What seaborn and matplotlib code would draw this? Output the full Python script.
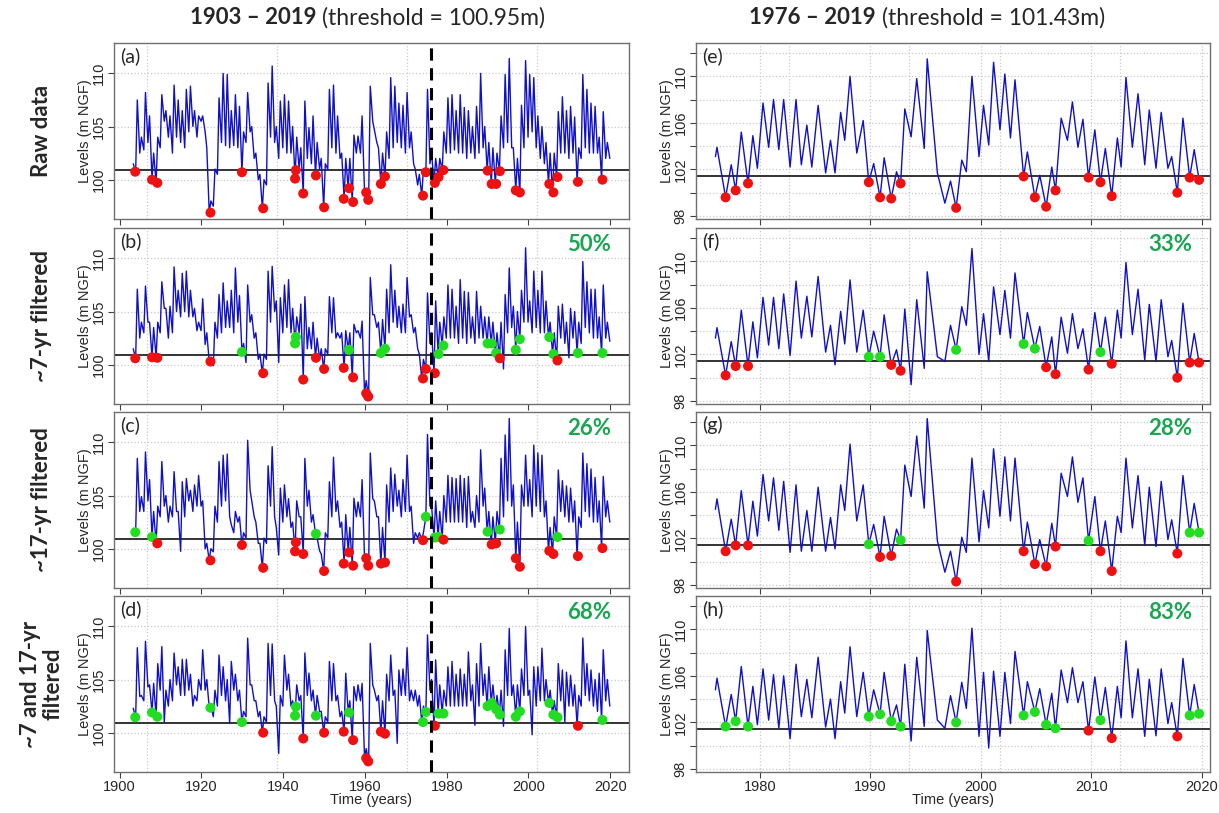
import numpy as np
import pandas as pd
import matplotlib
matplotlib.use("Agg")
import matplotlib.pyplot as plt
import seaborn as sns

# ---------------- data: long record 1903-2019 (annual high / low) ----------------
years_long = np.arange(1903, 2020)

a_high = [101.5, 107.5, 104.0, 108.2, 106.0, 102.5, 104.0, 108.0, 106.5, 106.0,
          108.9, 107.5, 106.5, 108.5, 108.8, 106.5, 106.0, 106.0, 103.0, 98.0,
          101.0, 107.7, 110.0, 109.9, 106.5, 108.0, 106.9, 104.5, 108.2, 105.0,
          102.5, 100.5, 100.0, 109.1, 110.7, 105.0, 107.4, 108.0, 107.4, 105.0,
          104.0, 103.0, 107.4, 104.9, 106.0, 103.5, 102.0, 101.5, 108.5, 108.9,
          106.0, 102.5, 102.0, 102.0, 104.2, 104.1, 106.0, 98.5, 108.8, 104.7,
          103.0, 102.5, 104.5, 109.6, 108.8, 107.2, 107.0, 108.2, 104.5, 101.0,
          100.5, 101.0, 108.5, 102.5, 102.0, 102.0, 104.5, 107.7, 108.0, 106.5,
          108.0, 106.8, 106.5, 105.0, 106.9, 110.0, 105.0, 103.5, 103.0, 102.5,
          106.0, 109.9, 111.4, 103.0, 102.0, 107.0, 111.2, 109.9, 109.6, 106.0,
          105.0, 103.5, 102.5, 102.5, 106.4, 107.8, 106.5, 106.9, 105.9, 103.0,
          109.9, 108.5, 107.2, 106.9, 104.0, 106.4, 103.5]
a_low = [100.75, 102.5, 102.8, 103.5, 100.0, 99.7, 103.0, 105.5, 104.0, 102.5,
         104.0, 103.5, 103.0, 104.5, 105.0, 104.0, 105.5, 104.5, 96.9, 97.5,
         100.5, 103.5, 103.2, 103.0, 103.2, 103.0, 100.7, 103.5, 104.5, 102.0,
         100.0, 97.3, 99.5, 104.0, 103.5, 102.0, 103.0, 102.5, 102.5, 100.1,
         101.0, 98.7, 102.0, 101.5, 100.4, 101.0, 97.4, 101.0, 103.0, 102.5,
         102.0, 98.2, 99.2, 97.9, 102.5, 102.5, 98.8, 98.1, 105.5, 103.5,
         99.6, 100.3, 102.0, 103.0, 103.5, 103.0, 102.5, 103.0, 101.5, 99.5,
         98.5, 100.7, 101.5, 99.7, 100.25, 100.9, 102.5, 102.5, 102.8, 102.5,
         102.5, 102.0, 102.5, 102.0, 102.5, 103.0, 100.85, 99.6, 99.6, 100.8,
         103.0, 103.5, 103.0, 99.0, 98.8, 103.0, 104.0, 104.5, 103.0, 102.0,
         101.5, 99.6, 98.8, 100.25, 102.5, 102.5, 102.0, 102.5, 99.8, 102.0,
         103.0, 102.5, 102.5, 102.5, 100.0, 102.0, 102.0]

b_high = [101.5, 107.1, 104.0, 107.4, 104.0, 103.5, 104.0, 107.8, 105.3, 105.5,
          109.2, 107.0, 108.6, 108.8, 107.0, 105.3, 104.0, 106.2, 103.0, 100.5,
          104.0, 106.6, 107.7, 106.0, 107.0, 109.1, 106.5, 102.0, 107.5, 104.7,
          103.0, 101.0, 101.0, 108.8, 109.25, 106.0, 106.3, 107.5, 108.0, 105.3,
          104.5, 105.7, 106.4, 103.5, 104.0, 102.5, 101.5, 101.5, 106.4, 106.3,
          103.0, 103.0, 103.2, 103.0, 103.8, 103.2, 104.1, 98.5, 108.2, 104.7,
          104.0, 104.25, 107.1, 109.4, 107.0, 105.5, 105.7, 108.2, 104.7, 103.5,
          101.0, 100.5, 106.75, 103.0, 106.0, 104.0, 104.5, 107.5, 107.1, 105.5,
          108.0, 106.9, 106.8, 104.5, 106.9, 105.5, 104.5, 104.5, 104.0, 103.0,
          104.0, 106.6, 109.1, 105.5, 105.0, 107.0, 111.0, 106.0, 108.8, 107.0,
          108.8, 106.0, 104.0, 103.0, 105.5, 105.7, 104.0, 105.3, 105.0, 104.0,
          109.7, 107.8, 107.1, 107.1, 104.5, 107.5, 104.0]
b_low = [100.6, 102.5, 103.0, 104.0, 100.7, 100.65, 103.0, 105.3, 102.5, 103.0,
         105.0, 104.5, 105.0, 104.5, 104.5, 103.2, 103.2, 101.9, 100.3, 99.9,
         102.5, 103.0, 103.5, 103.5, 103.0, 104.0, 101.2, 100.2, 104.0, 102.5,
         100.5, 99.2, 100.5, 104.0, 105.0, 100.2, 103.0, 103.5, 103.0, 102.0,
         103.0, 98.6, 101.5, 101.5, 100.65, 100.5, 99.6, 101.0, 103.0, 102.5,
         102.5, 99.7, 101.4, 98.8, 103.0, 102.5, 97.3, 97.0, 104.7, 103.5,
         101.1, 101.5, 103.0, 104.0, 103.5, 103.0, 103.0, 104.5, 103.0, 101.5,
         98.7, 99.6, 102.0, 99.2, 101.0, 101.8, 102.5, 102.5, 102.5, 102.0,
         102.5, 102.0, 102.5, 102.0, 102.5, 102.5, 102.0, 102.0, 101.1, 100.6,
         99.6, 103.0, 103.5, 101.4, 102.4, 104.0, 104.0, 103.0, 103.5, 103.0,
         103.0, 102.6, 101.0, 100.4, 102.5, 102.0, 100.65, 102.5, 101.1, 102.0,
         103.5, 103.0, 102.5, 102.5, 101.1, 102.5, 102.2]

c_high = [101.6, 108.5, 104.9, 109.1, 106.5, 103.5, 104.0, 108.2, 105.0, 104.0,
          107.25, 103.5, 106.3, 106.6, 105.5, 106.0, 106.9, 104.5, 100.5, 100.0,
          104.0, 108.2, 108.8, 108.9, 102.25, 103.5, 103.0, 101.5, 110.2, 104.5,
          102.5, 100.5, 101.0, 107.8, 109.6, 102.0, 105.7, 106.0, 104.7, 102.5,
          104.5, 103.0, 108.5, 105.5, 103.2, 101.0, 99.5, 101.5, 106.3, 108.6,
          104.5, 102.5, 103.2, 102.0, 104.75, 104.4, 106.5, 99.5, 109.0, 104.5,
          103.0, 102.0, 106.0, 107.6, 107.0, 105.5, 106.5, 108.8, 104.0, 101.5,
          101.5, 101.5, 110.75, 104.0, 104.5, 103.5, 105.0, 106.9, 106.7, 106.6,
          106.9, 106.6, 106.8, 103.5, 105.0, 109.3, 105.7, 103.5, 103.0, 103.5,
          108.5, 110.7, 112.25, 106.0, 102.5, 106.0, 108.8, 106.5, 109.75, 109.0,
          108.8, 104.5, 102.0, 103.0, 107.4, 106.4, 105.9, 105.7, 104.5, 103.0,
          109.0, 108.0, 107.5, 106.7, 104.5, 106.8, 104.5]
c_low = [101.55, 103.5, 103.5, 104.5, 101.1, 100.5, 103.0, 104.0, 102.5, 103.0,
         103.5, 99.75, 103.0, 104.5, 103.5, 104.0, 104.0, 100.0, 98.9, 99.7,
         102.5, 104.0, 104.5, 103.0, 101.5, 102.5, 100.35, 101.0, 105.5, 103.0,
         100.5, 98.2, 100.5, 104.0, 103.0, 99.4, 102.5, 103.0, 102.0, 99.75,
         103.0, 99.5, 104.0, 102.5, 101.4, 99.8, 97.9, 101.0, 103.0, 103.5,
         102.0, 98.6, 99.65, 98.4, 103.0, 103.0, 99.1, 98.4, 104.7, 103.0,
         98.6, 98.7, 102.5, 103.5, 104.0, 103.0, 103.5, 103.5, 100.5, 101.0,
         100.8, 103.0, 104.0, 101.05, 101.1, 100.85, 102.5, 102.5, 102.5, 102.5,
         102.5, 102.0, 102.5, 102.0, 102.5, 104.0, 101.6, 100.4, 100.5, 101.8,
         103.0, 104.5, 104.0, 99.1, 98.3, 104.0, 104.0, 103.0, 104.0, 103.5,
         103.0, 99.8, 99.5, 101.1, 103.5, 103.0, 102.5, 102.5, 99.3, 102.0,
         103.5, 103.0, 102.5, 102.5, 100.05, 103.0, 102.5]

d_high = [102.3, 108.0, 103.5, 108.6, 104.5, 104.65, 106.5, 108.1, 104.0, 105.0,
          107.5, 106.2, 106.9, 106.9, 105.5, 103.5, 105.0, 107.8, 105.0, 102.5,
          104.0, 107.3, 106.2, 105.0, 106.7, 105.5, 104.0, 102.0, 108.9, 104.5,
          103.0, 102.0, 101.5, 108.4, 108.35, 102.5, 103.5, 107.3, 105.5, 103.0,
          104.5, 103.5, 107.5, 105.6, 104.0, 103.5, 102.0, 101.5, 106.7, 106.5,
          103.5, 102.0, 105.6, 103.0, 104.35, 104.5, 104.65, 98.5, 108.4, 104.0,
          103.5, 103.0, 105.5, 107.3, 104.0, 105.9, 106.0, 108.0, 104.0, 104.0,
          103.5, 102.5, 109.2, 105.0, 106.85, 104.5, 104.0, 106.2, 106.7, 105.5,
          106.0, 105.5, 107.6, 104.5, 106.5, 108.4, 105.5, 106.2, 104.5, 103.5,
          104.0, 107.8, 109.8, 104.5, 104.5, 106.0, 110.0, 104.0, 106.2, 106.2,
          107.95, 105.0, 104.0, 103.0, 106.5, 105.9, 105.7, 105.4, 104.5, 103.5,
          108.9, 106.5, 105.9, 105.0, 105.6, 107.8, 105.0]
d_low = [101.45, 103.4, 103.0, 104.3, 101.9, 101.5, 104.0, 101.0, 102.5, 103.0,
         104.5, 103.5, 103.5, 104.0, 102.5, 103.0, 104.0, 104.0, 102.35, 101.5,
         102.5, 103.5, 103.0, 100.9, 104.0, 103.0, 101.0, 101.5, 104.5, 103.0,
         101.5, 100.0, 101.0, 103.5, 103.0, 98.05, 102.5, 104.0, 102.5, 101.6,
         103.0, 99.45, 103.5, 103.0, 101.6, 102.0, 100.0, 101.0, 103.0, 103.0,
         101.5, 100.1, 101.9, 99.3, 103.0, 103.0, 97.6, 97.3, 104.5, 103.0,
         100.1, 99.9, 103.0, 103.5, 99.0, 103.5, 103.5, 103.0, 103.0, 102.5,
         101.0, 101.95, 104.0, 100.65, 101.8, 101.8, 102.5, 102.5, 102.5, 102.5,
         102.5, 102.5, 103.0, 100.7, 102.5, 103.5, 102.5, 102.8, 102.2, 101.7,
         100.6, 103.5, 103.5, 101.5, 102.0, 103.5, 103.5, 99.8, 102.5, 103.0,
         103.0, 102.8, 101.7, 101.45, 103.0, 101.0, 102.5, 102.5, 100.65, 102.5,
         103.5, 103.0, 102.5, 102.0, 101.2, 103.0, 102.5]

# marker (annual minima) years and levels, long record
mk_long_years = [1903.8, 1907.9, 1909.2, 1922.2, 1929.9, 1935.1, 1942.9, 1943.1, 1944.9,
                 1948.0, 1950.0, 1954.8, 1956.1, 1957.1, 1960.3, 1960.8, 1963.9, 1964.9,
                 1974.2, 1974.9, 1977.1, 1978.0, 1979.2, 1990.0, 1991.0, 1992.1, 1993.0,
                 1996.9, 1997.9, 2005.1, 2006.1, 2007.1, 2012.1, 2018.1]
a_mk = [100.75, 100.0, 99.7, 96.9, 100.7, 97.3, 100.1, 100.9, 98.7, 100.4, 97.4, 98.2,
        99.2, 97.9, 98.8, 98.1, 99.6, 100.3, 98.5, 100.7, 99.7, 100.25, 100.9, 100.85,
        99.6, 99.6, 100.8, 99.0, 98.8, 99.6, 98.8, 100.25, 99.8, 100.0]
b_mk = [100.6, 100.7, 100.65, 100.3, 101.2, 99.2, 102.0, 102.6, 98.6, 100.65, 99.6, 99.7,
        101.4, 98.8, 97.3, 97.0, 101.1, 101.5, 98.7, 99.6, 99.2, 101.0, 101.8, 102.0,
        102.0, 101.1, 100.6, 101.4, 102.4, 102.6, 101.0, 100.4, 101.1, 101.1]
c_mk = [101.55, 101.1, 100.5, 98.9, 100.35, 98.2, 99.75, 100.6, 99.5, 101.4, 97.9, 98.6,
        99.65, 98.4, 99.1, 98.4, 98.6, 98.7, 100.8, 103.0, 101.05, 101.1, 100.85, 101.6,
        100.4, 100.5, 101.8, 99.1, 98.3, 99.8, 99.5, 101.1, 99.3, 100.05]
d_mk = [101.45, 101.9, 101.5, 102.35, 101.0, 100.0, 101.6, 102.45, 99.45, 101.6, 100.0,
        100.1, 101.9, 99.3, 97.6, 97.3, 100.1, 99.9, 101.0, 101.95, 100.65, 101.8, 101.8,
        102.5, 102.8, 102.2, 101.7, 101.5, 102.0, 102.8, 101.7, 101.45, 100.65, 101.2]

# ---------------- data: short record 1976-2019 (turning points) ----------------
t_short = [1975.96, 1976.10, 1976.88, 1977.39, 1977.79, 1978.30, 1978.91, 1979.35, 1979.76,
           1980.27, 1980.78, 1981.22, 1981.70, 1982.14, 1982.72, 1983.26, 1983.74, 1984.24,
           1984.69, 1985.26, 1985.94, 1986.38, 1986.79, 1987.30, 1987.67, 1988.15, 1988.76,
           1989.34, 1989.85, 1990.29, 1990.87, 1991.24, 1991.88, 1992.36, 1992.73, 1993.11,
           1993.68, 1994.19, 1994.87, 1995.14, 1996.06, 1996.74, 1997.25, 1997.76, 1998.27,
           1998.68, 1999.19, 1999.83, 2000.24, 2000.71, 2001.15, 2001.73, 2002.17, 2002.68,
           2003.09, 2003.87, 2004.21, 2004.89, 2005.33, 2005.91, 2006.42, 2006.76, 2007.27,
           2007.84, 2008.29, 2008.79, 2009.24, 2009.75, 2010.32, 2010.83, 2011.27, 2011.85,
           2012.36, 2012.70, 2013.14, 2013.72, 2014.23, 2014.84, 2015.25, 2015.86, 2016.33,
           2016.94, 2017.28, 2017.79, 2018.30, 2018.91, 2019.32, 2019.76]
e_lvl = [103.1, 103.9, 99.6, 102.4, 100.2, 105.2, 100.8, 104.9, 102.1, 107.7, 103.9, 108.0,
         103.7, 108.0, 102.2, 108.0, 102.4, 105.8, 102.2, 107.5, 101.7, 104.5, 101.7, 106.9,
         104.5, 110.0, 103.4, 106.2, 100.9, 102.5, 99.6, 103.0, 99.5, 101.8, 100.8, 107.2,
         104.8, 109.8, 103.8, 111.5, 101.7, 99.1, 101.0, 98.7, 102.8, 101.8, 110.0, 103.1,
         107.5, 104.1, 111.2, 105.4, 110.2, 104.7, 109.7, 101.4, 103.5, 99.6, 101.5, 98.8,
         102.2, 100.2, 106.4, 104.5, 107.8, 103.9, 106.3, 101.3, 105.4, 100.9, 103.8, 99.7,
         104.7, 102.2, 109.9, 103.9, 108.5, 102.4, 107.1, 102.1, 106.9, 102.1, 103.1, 100.0,
         106.4, 101.3, 103.7, 101.1]
f_lvl = [103.4, 104.3, 100.2, 103.1, 101.0, 105.8, 101.0, 104.8, 101.7, 106.9, 102.8, 106.9,
         102.5, 107.2, 101.9, 108.3, 103.4, 107.0, 103.5, 108.7, 102.2, 104.5, 101.1, 105.7,
         102.9, 108.4, 102.2, 105.8, 101.8, 104.0, 101.8, 105.4, 101.1, 102.4, 100.6, 105.9,
         99.4, 106.7, 100.8, 109.1, 101.8, 101.4, 104.5, 102.4, 106.1, 104.5, 111.1, 102.0,
         105.5, 101.4, 107.8, 103.7, 107.5, 103.4, 109.0, 102.9, 105.6, 102.5, 104.4, 100.9,
         103.5, 100.3, 105.2, 102.1, 105.5, 102.5, 104.2, 100.7, 105.6, 102.2, 105.2, 101.2,
         105.8, 103.4, 109.9, 103.7, 107.6, 101.5, 106.3, 101.4, 106.7, 101.8, 103.2, 100.0,
         106.4, 101.3, 103.8, 101.3]
g_lvl = [104.5, 105.4, 100.9, 103.65, 101.4, 106.1, 101.4, 105.2, 102.2, 107.5, 103.5, 107.2,
         102.7, 106.9, 100.8, 106.6, 100.9, 104.4, 100.9, 106.4, 100.9, 103.8, 101.1, 106.6,
         104.4, 110.1, 103.5, 106.6, 101.5, 103.2, 100.4, 103.9, 100.5, 102.8, 101.85, 108.3,
         105.6, 110.8, 104.6, 112.3, 101.8, 99.1, 100.9, 98.3, 102.1, 100.8, 108.9, 101.7,
         106.1, 102.9, 109.7, 103.9, 109.0, 103.5, 108.9, 100.9, 103.4, 99.8, 101.9, 99.6,
         103.3, 101.3, 107.6, 105.6, 109.0, 105.1, 107.2, 101.8, 105.6, 100.9, 103.5, 99.2,
         103.9, 102.5, 108.9, 102.9, 107.4, 101.4, 106.4, 101.3, 106.9, 101.9, 103.6, 100.7,
         107.4, 102.5, 105.0, 102.5]
h_lvl = [104.8, 105.8, 101.65, 104.4, 102.1, 106.8, 101.65, 105.1, 101.8, 106.6, 102.2, 106.1,
         101.5, 106.0, 100.6, 107.0, 102.5, 105.7, 102.4, 107.6, 101.6, 104.0, 100.6, 105.5,
         102.8, 108.5, 102.5, 106.3, 102.5, 104.8, 102.7, 106.3, 102.1, 103.5, 101.65, 107.0,
         100.4, 107.6, 101.65, 109.9, 102.2, 101.5, 104.3, 102.0, 105.45, 103.2, 110.1, 100.8,
         106.3, 99.8, 106.4, 100.8, 106.3, 101.9, 108.1, 102.6, 105.5, 102.9, 104.9, 101.8,
         104.5, 101.5, 106.5, 103.7, 106.7, 103.7, 105.5, 101.3, 105.9, 102.2, 105.0, 100.65,
         105.1, 102.4, 109.0, 102.4, 106.6, 100.8, 105.7, 100.85, 106.6, 101.9, 103.7, 100.8,
         107.5, 102.6, 105.25, 102.75]

mk_short_years = [1976.88, 1977.79, 1978.91, 1989.85, 1990.87, 1991.88, 1992.73, 1997.76,
                  2003.87, 2004.89, 2005.91, 2006.76, 2009.75, 2010.83, 2011.85, 2017.79,
                  2018.91, 2019.76]
e_mk = [99.6, 100.2, 100.8, 100.9, 99.6, 99.5, 100.8, 98.7, 101.4, 99.6, 98.8, 100.2,
        101.3, 100.9, 99.7, 100.0, 101.3, 101.1]
f_mk = [100.2, 101.0, 101.0, 101.8, 101.8, 101.1, 100.6, 102.4, 102.9, 102.5, 100.9, 100.3,
        100.7, 102.2, 101.2, 100.0, 101.3, 101.3]
g_mk = [100.9, 101.4, 101.4, 101.5, 100.4, 100.5, 101.85, 98.3, 100.9, 99.8, 99.6, 101.3,
        101.8, 100.9, 99.2, 100.7, 102.5, 102.5]
h_mk = [101.65, 102.1, 101.65, 102.5, 102.7, 102.1, 101.65, 102.0, 102.6, 102.9, 101.8, 101.5,
        101.3, 102.2, 100.65, 100.8, 102.6, 102.75]

thr_long = 100.95
thr_short = 101.43
row_labels = ["Raw data", "~7-yr filtered", "~17-yr filtered", "~7 and 17-yr\nfiltered"]
pct_long = [None, "50%", "26%", "68%"]
pct_short = [None, "33%", "28%", "83%"]
letters_long = ["(a)", "(b)", "(c)", "(d)"]
letters_short = ["(e)", "(f)", "(g)", "(h)"]

# ---------------- style ----------------
sns.set_style("white")
plt.rcParams["font.family"] = ["Liberation Sans", "DejaVu Sans"]

W, H = 1219, 813
fig = plt.figure(figsize=(W / 100, H / 100), dpi=100)


def add_ax(x0, y0, x1, y1):
    return fig.add_axes([x0 / W, 1 - y1 / H, (x1 - x0) / W, (y1 - y0) / H])


LEFT_X = (114, 629)
RIGHT_X = (696, 1210)
ROWS = [(43, 219), (228, 404), (412, 588), (596, 772)]

BLUE = "#1010c8"
RED = "#ee1111"
GREEN = "#22dd22"
PCT = "#1aa552"
GRID = "#c9c9c9"
TF = ["Lato", "DejaVu Sans"]


def style_axes(ax, bottom):
    for s in ax.spines.values():
        s.set_color("#707070")
        s.set_linewidth(1.0)
    ax.tick_params(axis="both", direction="out", length=4, width=0.8, color="#404040",
                   labelsize=10.5, pad=2, left=True, bottom=True)
    ax.tick_params(axis="x", labelbottom=bottom)
    for lab in ax.get_yticklabels():
        lab.set_rotation(90)
        lab.set_va("center")
    ax.set_ylabel("Levels (m NGF)", fontsize=10.5, labelpad=0)
    if bottom:
        ax.set_xlabel("Time (years)", fontsize=10.5, labelpad=-1)
    else:
        ax.set_xlabel("")


def draw_series(ax, t, v, mk_t, mk_v, thr):
    df = pd.DataFrame({"t": t, "v": v})
    sns.lineplot(data=df, x="t", y="v", ax=ax, color=BLUE, linewidth=1.0,
                 estimator=None, sort=False, zorder=3, solid_joinstyle="round")
    ax.axhline(thr, color="#333333", linewidth=1.4, zorder=2)
    mk = pd.DataFrame({"t": mk_t, "v": mk_v})
    mk["state"] = np.where(mk["v"] > thr, "up", "down")
    sns.scatterplot(data=mk, x="t", y="v", hue="state", palette={"up": GREEN, "down": RED},
                    s=52, edgecolor="none", legend=False, ax=ax, zorder=5)


long_sets = [(a_high, a_low, a_mk), (b_high, b_low, b_mk), (c_high, c_low, c_mk), (d_high, d_low, d_mk)]
short_sets = [(e_lvl, e_mk), (f_lvl, f_mk), (g_lvl, g_mk), (h_lvl, h_mk)]

for i, (top, bot) in enumerate(ROWS):
    # ---------- left column ----------
    ax = add_ax(LEFT_X[0], top, LEFT_X[1], bot)
    hi, lo, mkv = long_sets[i]
    t = np.column_stack([years_long + 0.3, years_long + 0.9]).ravel()
    v = np.column_stack([hi, lo]).ravel()
    for gx in [1906.6, 1938.5, 1970.3, 2002.1]:
        ax.axvline(gx, color=GRID, linestyle=":", linewidth=0.9, zorder=1)
    for gy in [100, 105, 110]:
        ax.axhline(gy, color=GRID, linestyle=":", linewidth=0.9, zorder=1)
    draw_series(ax, t, v, mk_long_years, mkv, thr_long)
    ax.axvline(1976.2, color="black", linestyle=(0, (4, 2.5)), linewidth=2.2, zorder=6)
    ax.set_xlim(1898.6, 2024.6)
    ax.set_ylim(96.3, 112.86)
    ax.set_xticks(np.arange(1900, 2021, 20))
    ax.set_yticks([100, 105, 110])
    style_axes(ax, i == 3)
    ax.text(0.012, 0.975, letters_long[i], transform=ax.transAxes, ha="left", va="top",
            fontsize=14, family=TF)
    if pct_long[i]:
        ax.text(0.965, 0.965, pct_long[i], transform=ax.transAxes, ha="right", va="top",
                fontsize=16, fontweight="bold", color=PCT, family=TF)

    # ---------- right column ----------
    ax2 = add_ax(RIGHT_X[0], top, RIGHT_X[1], bot)
    lv, mkv2 = short_sets[i]
    for gx in [1980, 1982.6, 1990, 1993.5, 2000, 2001.7, 2010, 2012.6, 2020]:
        ax2.axvline(gx, color=GRID, linestyle=":", linewidth=0.9, zorder=1)
    for gy in np.arange(98, 113, 2):
        ax2.axhline(gy, color=GRID, linestyle=":", linewidth=0.9, zorder=1)
    draw_series(ax2, t_short, lv, mk_short_years, mkv2, thr_short)
    ax2.set_xlim(1974.2, 2020.75)
    ax2.set_ylim(97.74, 112.86)
    ax2.set_xticks(np.arange(1980, 2021, 10))
    yt = np.arange(98, 113, 2)
    ax2.set_yticks(yt)
    ax2.set_yticklabels([str(y) if (y - 98) % 4 == 0 else "" for y in yt])
    style_axes(ax2, i == 3)
    ax2.text(0.012, 0.975, letters_short[i], transform=ax2.transAxes, ha="left", va="top",
             fontsize=14, family=TF)
    if pct_short[i]:
        ax2.text(0.965, 0.965, pct_short[i], transform=ax2.transAxes, ha="right", va="top",
                 fontsize=16, fontweight="bold", color=PCT, family=TF)

    # row label
    fig.text(42 / W, 1 - ((top + bot) / 2) / H, row_labels[i], rotation=90, ha="center",
             va="center", fontsize=16, fontweight="bold", family=TF, linespacing=1.1)

# column titles
fig.text(316 / W, 1 - 18 / H, "1903 \u2013 2019", ha="right", va="center", fontsize=16,
         fontweight="bold", family=TF)
fig.text(322 / W, 1 - 18 / H, "(threshold = 100.95m)", ha="left", va="center", fontsize=16.5,
         family=TF)
fig.text(876 / W, 1 - 18 / H, "1976 \u2013 2019", ha="right", va="center", fontsize=16,
         fontweight="bold", family=TF)
fig.text(882 / W, 1 - 18 / H, "(threshold = 101.43m)", ha="left", va="center", fontsize=16.5,
         family=TF)

fig.savefig("out.png", dpi=100)
